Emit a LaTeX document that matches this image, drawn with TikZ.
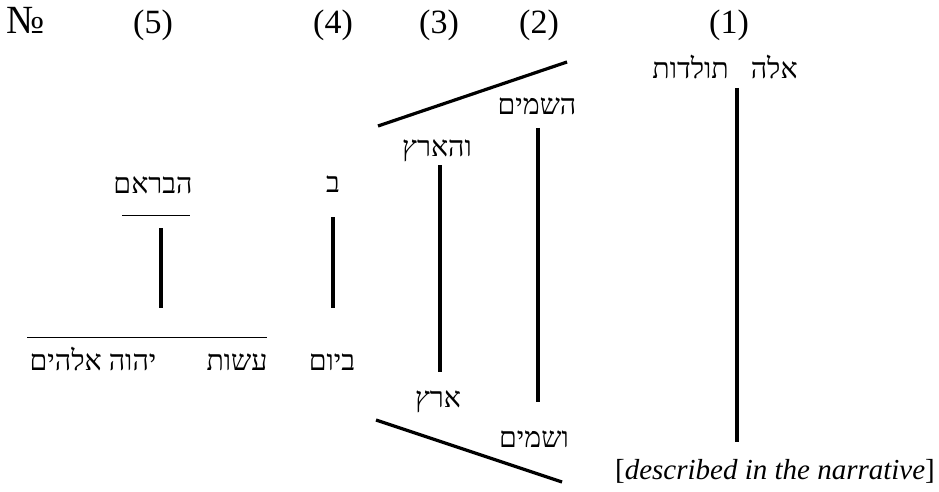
\documentclass[tikz,border=0pt]{standalone}
\usepackage{fontspec}
\setmainfont{Liberation Serif}
\newfontfamily\hebfont[Script=Hebrew]{Liberation Serif}
\TeXXeTstate=1
\usetikzlibrary{calc}
\newcommand{\heb}[1]{{\hebfont\fontsize{28.5}{32}\selectfont\beginR #1\endR}}

\begin{document}
\begin{tikzpicture}[x=1pt,y=-1pt,word/.style={font=\fontsize{29}{33}\selectfont,inner sep=0pt,anchor=base},colno/.style={word,font=\fontsize{34}{38}\selectfont},stem/.style={line width=3.2pt},rule/.style={line width=0.9pt},slant/.style={line width=3.2pt}]
\useasboundingbox (0,0) rectangle (939,492);
% column numbers
\node[colno,font=\fontsize{40}{44}\selectfont] (no) at (26,34) {№};
\node[colno] (n5) at (153,34) {(5)};
\node[colno] (n4) at (333,34) {(4)};
\node[colno] (n3) at (439,34) {(3)};
\node[colno] (n2) at (539,34) {(2)};
\node[colno] (n1) at (729,34) {(1)};
% words
\node[word] (toledot) at (725,79) {\heb{אלה\hspace{22pt}תולדות}};
\node[word] (shamayim) at (537,115) {\heb{השמים}};
\node[word] (vehaarets) at (437,156) {\heb{והארץ}};
\node[word] (be) at (333,192) {\heb{ב}};
\node[word] (havaram) at (153,193) {\heb{הבראם}};
\node[word] (beyom) at (332,370) {\heb{ביום}};
\node[word] (asot) at (237,370) {\heb{עשות}};
\node[word] (elohim) at (93,370) {\heb{יהוה אלהים}};
\node[word] (erets) at (438,407) {\heb{ארץ}};
\node[word] (veshamayim) at (534,447) {\heb{ושמים}};
\node[word] (narr) at (775,479) {[\textit{described in the narrative}]};
% stems
\draw[stem] ($(toledot.base)+(12,9)$) -- ($(toledot.base |- narr.base)+(12,-37)$);
\draw[stem] ($(shamayim.base)+(1,13)$) -- ($(shamayim.base |- veshamayim.base)+(1,-45)$);
\draw[stem] ($(vehaarets.base)+(3,9)$) -- ($(vehaarets.base |- erets.base)+(3,-35)$);
\draw[stem] ($(be.base)+(0,25)$) -- ($(be.base |- beyom.base)+(0,-62)$);
\draw[stem] ($(havaram.base)+(8,35)$) -- ($(havaram.base |- asot.base)+(8,-62)$);
% rules
\draw[rule] ($(havaram.base)+(-31,22)$) -- ($(havaram.base)+(37,22)$);
\draw[rule] ($(elohim.base)+(-66,-33)$) -- ($(asot.base)+(30,-33)$);
% slants
\coordinate (topfork) at (567,62);
\coordinate (botfork) at (562,482);
\draw[slant] ($(vehaarets.base)+(-59,-30)$) -- (topfork);
\draw[slant] ($(erets.base)+(-62,13)$) -- (botfork);
\end{tikzpicture}
\end{document}
